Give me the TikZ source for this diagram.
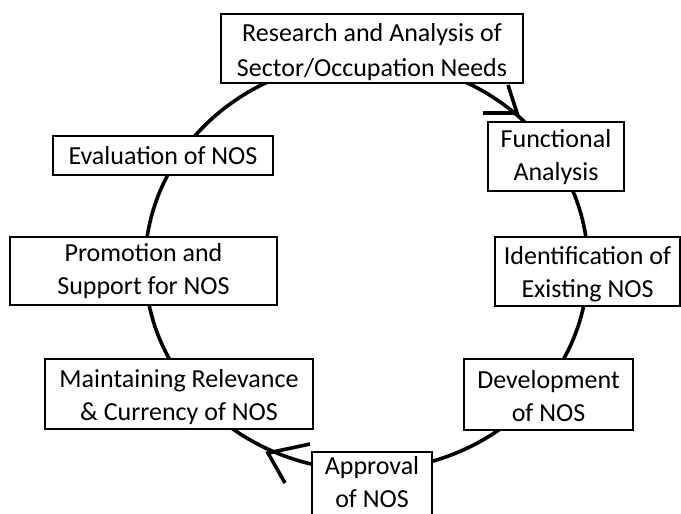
\documentclass[tikz,border=0pt]{standalone}
\usepackage{fontspec}
\setmainfont{Carlito}
\begin{document}
\begin{tikzpicture}[x=1pt,y=-1pt,
  box/.style={draw=black, line width=1.6pt, fill=white, inner sep=0pt},
  txt/.style={align=center, inner sep=0pt, font=\fontsize{26}{33}\selectfont},
  ring/.style={line width=3.6pt},
  barb/.style={line width=3.6pt, line join=miter}]
\useasboundingbox (0,0) rectangle (681,514);
\clip (0,0) rectangle (681,514);
\draw[ring] (366.5,265.5) ellipse [x radius=221.5pt, y radius=205pt];

\node[box, minimum width=302pt, minimum height=69pt] (research) at (372,48.5) {};
\node[txt, font=\fontsize{26}{35}\selectfont] (researchT) at ([yshift=-3.5pt]research.center)
  {Research and Analysis of\\Sector/Occupation Needs};
\node[box, minimum width=136pt, minimum height=69pt] (functional) at (556,156.5) {};
\node[txt] (functionalT) at ([yshift=-1pt]functional.center) {Functional\\Analysis};
\node[box, minimum width=185pt, minimum height=69pt] (identification) at (587.5,271.5) {};
\node[txt] (identificationT) at ([yshift=-2.5pt]identification.center) {Identification of\\Existing NOS};
\node[box, minimum width=169pt, minimum height=71pt] (development) at (548.5,394.5) {};
\node[txt] (developmentT) at ([yshift=-1.5pt]development.center) {Development\\of NOS};
\node[box, minimum width=120pt, minimum height=70pt] (approval) at (372,487) {};
\node[txt, text depth=0pt, anchor=south] (approvalT) at (372,508) {Approval\\of NOS};
\node[box, minimum width=268pt, minimum height=70pt] (maintaining) at (179,394) {};
\node[txt] (maintainingT) at ([yshift=-3pt]maintaining.center) {Maintaining Relevance\\\& Currency of NOS};
\node[box, minimum width=267pt, minimum height=68pt] (promotion) at (143.5,271) {};
\node[txt] (promotionT) at (promotion.center) {Promotion and\\Support for NOS};
\node[box, minimum width=220pt, minimum height=39pt] (evaluation) at (163,155.5) {};
\node[txt] (evaluationT) at (evaluation.center) {Evaluation of NOS};

\coordinate (tipA) at (517,113);
\draw[barb] (tipA) ++(-34,0) -- (tipA) -- ++(-9,-28);
\coordinate (tipB) at (268,453);
\draw[barb] (tipB) ++(42,-9) -- (tipB) -- ++(17,30);
\end{tikzpicture}
\end{document}
